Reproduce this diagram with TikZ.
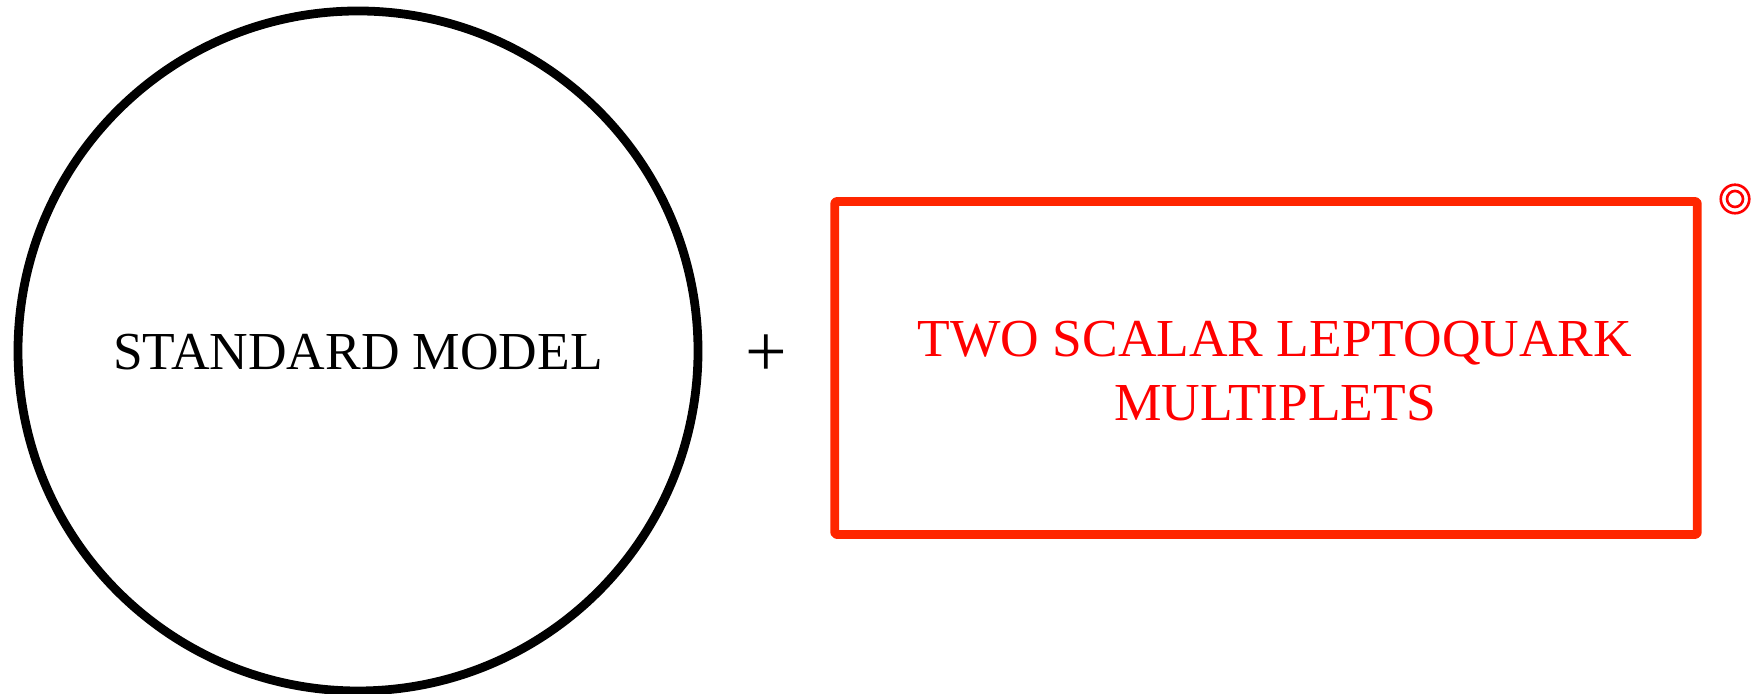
\documentclass[tikz,border=0pt]{standalone}
\usepackage{fontspec}
\setmainfont{Liberation Serif}
\usetikzlibrary{positioning}
\definecolor{extrared}{RGB}{255,38,0}
\definecolor{labelred}{RGB}{255,0,0}

\begin{document}
\begin{tikzpicture}[
    model/.style={draw=black, circle, line width=2.5pt, minimum size=6.8cm, inner sep=0pt},
    extra/.style={draw=extrared, line width=2.5pt, rounded corners=0.6pt, line join=round,
                  minimum width=8.625cm, minimum height=3.33cm, inner sep=0pt},
    bigtxt/.style={font=\fontsize{15.2pt}{18.2pt}\selectfont, align=center},
    ring/.style={draw=labelred, circle, line width=0.75pt, inner sep=0pt, minimum size=#1}
  ]
    \useasboundingbox (0,0) rectangle (17.56,6.94);

    % Circle and box
    \node[model] (SM) at (3.58,3.43) {};
    \node[bigtxt] (SMtxt) at (3.58,3.42) {STANDARD MODEL};
    \node[extra] (LQ) at (12.66,3.26) {};

    % Text in the box
    \node[bigtxt, text=labelred] (LQtxt) at (12.75,3.23) {TWO SCALAR LEPTOQUARK\\MULTIPLETS};

    % Plus sign
    \node[bigtxt, font=\fontsize{21pt}{24pt}\selectfont] (plus) at (7.66,3.38) {+};

    % Mark at the corner
    \node[ring=0.285cm] (outer) at (17.35,4.95) {};
    \node[ring=0.16cm] (inner) at (outer) {};

  \end{tikzpicture}
\end{document}
